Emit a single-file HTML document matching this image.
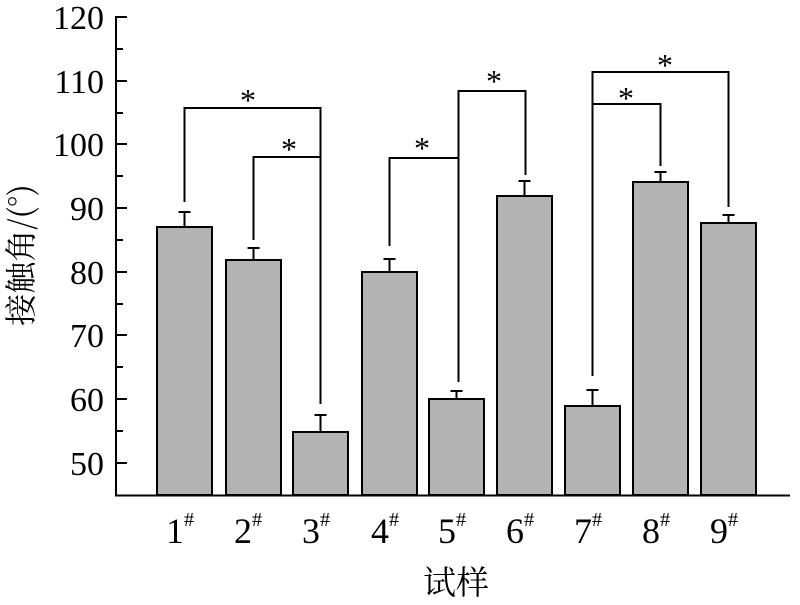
<!DOCTYPE html>
<html><head><meta charset="utf-8"><style>
html,body{margin:0;padding:0;background:#fff;}
svg text{font-family:"Liberation Serif","Noto Serif CJK SC",serif;fill:#000;}
</style></head><body>
<svg width="800" height="600" viewBox="0 0 800 600" xmlns="http://www.w3.org/2000/svg">
<g stroke="#000" stroke-width="2" fill="none">
<line x1="116" y1="16" x2="116" y2="496"/>
<line x1="115" y1="495.5" x2="790" y2="495.5"/>
<line x1="116" y1="17" x2="127" y2="17"/>
<line x1="116" y1="49" x2="123" y2="49"/>
<line x1="116" y1="81" x2="127" y2="81"/>
<line x1="116" y1="113" x2="123" y2="113"/>
<line x1="116" y1="144" x2="127" y2="144"/>
<line x1="116" y1="176" x2="123" y2="176"/>
<line x1="116" y1="208" x2="127" y2="208"/>
<line x1="116" y1="240" x2="123" y2="240"/>
<line x1="116" y1="272" x2="127" y2="272"/>
<line x1="116" y1="304" x2="123" y2="304"/>
<line x1="116" y1="335" x2="127" y2="335"/>
<line x1="116" y1="367" x2="123" y2="367"/>
<line x1="116" y1="399" x2="127" y2="399"/>
<line x1="116" y1="431" x2="123" y2="431"/>
<line x1="116" y1="463" x2="127" y2="463"/>
</g>
<g font-size="34" text-anchor="end">
<text x="104" y="29">120</text><text x="104" y="93">110</text><text x="104" y="156">100</text>
<text x="104" y="220">90</text><text x="104" y="284">80</text><text x="104" y="347">70</text>
<text x="104" y="411">60</text><text x="104" y="475">50</text>
</g>
<g fill="#b3b3b3" stroke="#000" stroke-width="2">
<rect x="157" y="227" width="55" height="268"/>
<rect x="226" y="260" width="55" height="235"/>
<rect x="293" y="432" width="55" height="63"/>
<rect x="362" y="272" width="55" height="223"/>
<rect x="429" y="399" width="55" height="96"/>
<rect x="497" y="196" width="55" height="299"/>
<rect x="565" y="406" width="55" height="89"/>
<rect x="633" y="182" width="55" height="313"/>
<rect x="701" y="223" width="55" height="272"/>
</g>
<g stroke="#000" stroke-width="2" fill="none">
<path d="M184.5 227V212M178.5 212h12"/>
<path d="M253.5 260V248M247.5 248h12"/>
<path d="M320.5 432V415M314.5 415h12"/>
<path d="M389.5 272V259M383.5 259h12"/>
<path d="M456.5 399V391M450.5 391h12"/>
<path d="M524.5 196V181M518.5 181h12"/>
<path d="M592.5 406V390M586.5 390h12"/>
<path d="M660.5 182V172M654.5 172h12"/>
<path d="M728.5 223V215M722.5 215h12"/>
<path d="M184.5 202V108H320.5V404"/>
<path d="M253.5 240V157H320.5"/>
<path d="M389.5 246V158H458.5V382"/>
<path d="M458.5 158V91H525.5V175"/>
<path d="M592.5 376V104H660.5V166"/>
<path d="M592.5 104V72H728.5V207"/>
</g>
<g font-size="32" text-anchor="middle">
<text x="248" y="111">*</text><text x="289" y="160">*</text>
<text x="422" y="159">*</text><text x="494" y="92">*</text>
<text x="626" y="109">*</text><text x="665" y="76">*</text>
</g>
<g font-size="36" text-anchor="middle">
<text x="180" y="543">1<tspan font-size="20" dy="-17">#</tspan></text>
<text x="248" y="543">2<tspan font-size="20" dy="-17">#</tspan></text>
<text x="316" y="543">3<tspan font-size="20" dy="-17">#</tspan></text>
<text x="385" y="543">4<tspan font-size="20" dy="-17">#</tspan></text>
<text x="452" y="543">5<tspan font-size="20" dy="-17">#</tspan></text>
<text x="520" y="543">6<tspan font-size="20" dy="-17">#</tspan></text>
<text x="588" y="543">7<tspan font-size="20" dy="-17">#</tspan></text>
<text x="656" y="543">8<tspan font-size="20" dy="-17">#</tspan></text>
<text x="724" y="543">9<tspan font-size="20" dy="-17">#</tspan></text>
</g>
<text x="456" y="594" font-size="33" text-anchor="middle" style='font-family:"Noto Serif CJK SC",serif'>试样</text>
<text transform="translate(32,255) rotate(-90)" font-size="32" text-anchor="middle" style='font-family:"Noto Serif CJK SC","Liberation Serif",serif'>接触角/(°)</text>
</svg>
</body></html>
